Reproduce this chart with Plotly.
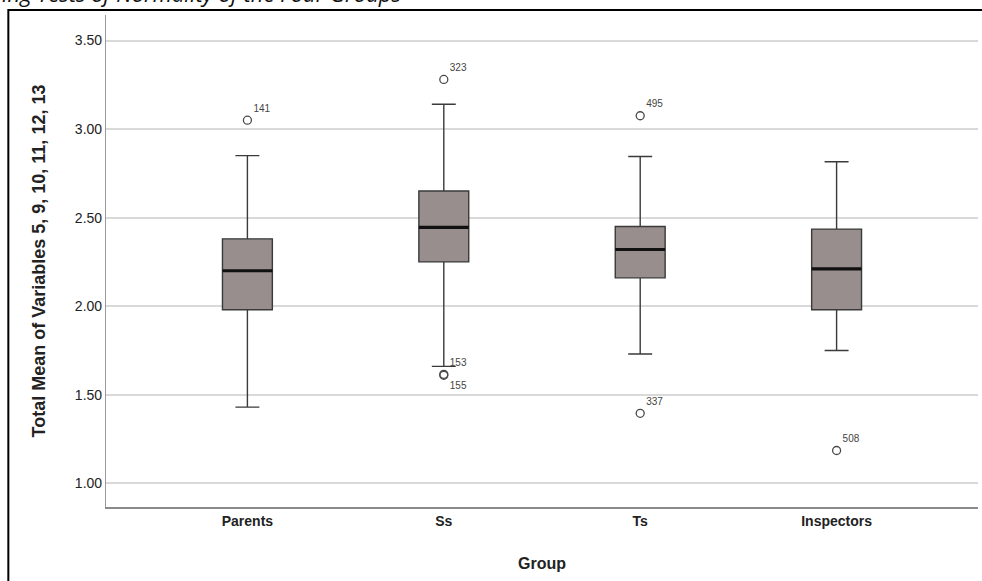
import plotly.graph_objects as go

groups = ["Parents", "Ss", "Ts", "Inspectors"]
q1 = [1.98, 2.25, 2.16, 1.98]
median = [2.20, 2.445, 2.32, 2.21]
q3 = [2.38, 2.65, 2.45, 2.435]
lower_whisker = [1.43, 1.66, 1.73, 1.75]
upper_whisker = [2.85, 3.14, 2.845, 2.815]

outlier_group = [0, 1, 1, 1, 2, 2, 3]
outlier_value = [3.05, 3.28, 1.615, 1.61, 3.075, 1.395, 1.185]
outlier_label = ["141", "323", "153", "155", "495", "337", "508"]
outlier_textpos = ["top right", "top right", "top right", "bottom right",
                   "top right", "top right", "top right"]

y_ticks = [1.0, 1.5, 2.0, 2.5, 3.0, 3.5]
y_ticktext = ["1.00", "1.50", "2.00", "2.50", "3.00", "3.50"]

BOX_W = 0.254
FONT = "Liberation Sans, Arial, sans-serif"

fig = go.Figure()

fig.add_trace(go.Box(
    x=list(range(len(groups))),
    q1=q1, median=median, q3=q3,
    lowerfence=lower_whisker, upperfence=upper_whisker,
    width=BOX_W, whiskerwidth=0.48,
    fillcolor="#978e8d",
    line=dict(color="#3a3a3a", width=1.4),
    boxpoints=False, showlegend=False, hoverinfo="skip",
))

for i, m in enumerate(median):
    fig.add_trace(go.Scatter(
        x=[i - BOX_W / 2, i + BOX_W / 2], y=[m, m], mode="lines",
        line=dict(color="#111111", width=3.2), showlegend=False, hoverinfo="skip",
    ))

fig.add_trace(go.Scatter(
    x=outlier_group, y=outlier_value, mode="markers+text",
    text=outlier_label, textposition=outlier_textpos,
    textfont=dict(family=FONT, size=10, color="#444444"),
    marker=dict(symbol="circle-open", size=8, color="#4a4a4a", line=dict(width=1.3)),
    showlegend=False, hoverinfo="skip",
))

fig.update_layout(
    width=982, height=581,
    margin=dict(l=106, r=4, t=15, b=74),
    paper_bgcolor="white", plot_bgcolor="white",
    font=dict(family=FONT, color="#222222"),
    xaxis=dict(
        range=[-0.72, 3.72], tickvals=list(range(len(groups))), ticktext=groups,
        tickfont=dict(family=FONT, size=14, color="#222222", weight="bold"),
        showgrid=False, zeroline=False, showline=True, linecolor="#8a8a8a", linewidth=1.5,
        ticks="", title=dict(text="<b>Group</b>", font=dict(family=FONT, size=16, color="#222222"),
                             standoff=30),
    ),
    yaxis=dict(
        range=[0.866, 3.644], tickvals=y_ticks, ticktext=y_ticktext,
        tickfont=dict(family=FONT, size=14, color="#222222"),
        showgrid=True, gridcolor="#d9d9d9", gridwidth=1.5, zeroline=False,
        showline=True, linecolor="#9a9a9a", linewidth=1.2, ticks="",
        title=dict(text="<b>Total Mean of Variables 5, 9, 10, 11, 12, 13</b>",
                   font=dict(family=FONT, size=18, color="#222222"), standoff=24),
    ),
    shapes=[dict(type="rect", xref="paper", yref="paper",
                 x0=-0.112, x1=1.2, y0=-0.3, y1=1.0102,
                 line=dict(color="black", width=2), fillcolor="rgba(0,0,0,0)", layer="above")],
    annotations=[dict(text="<i>ing Tests of Normality of the Four Groups</i>",
                      xref="paper", yref="paper", x=(404 - 106) / 872, y=1 + (15 - 10) / 492,
                      xanchor="right", yanchor="bottom", showarrow=False,
                      font=dict(family="Open Sans, sans-serif", size=22, color="#111111"))],
)

fig.write_html("out.html", config={"displayModeBar": False},
               post_script="document.body.style.margin='0';document.body.style.overflow='hidden';")
